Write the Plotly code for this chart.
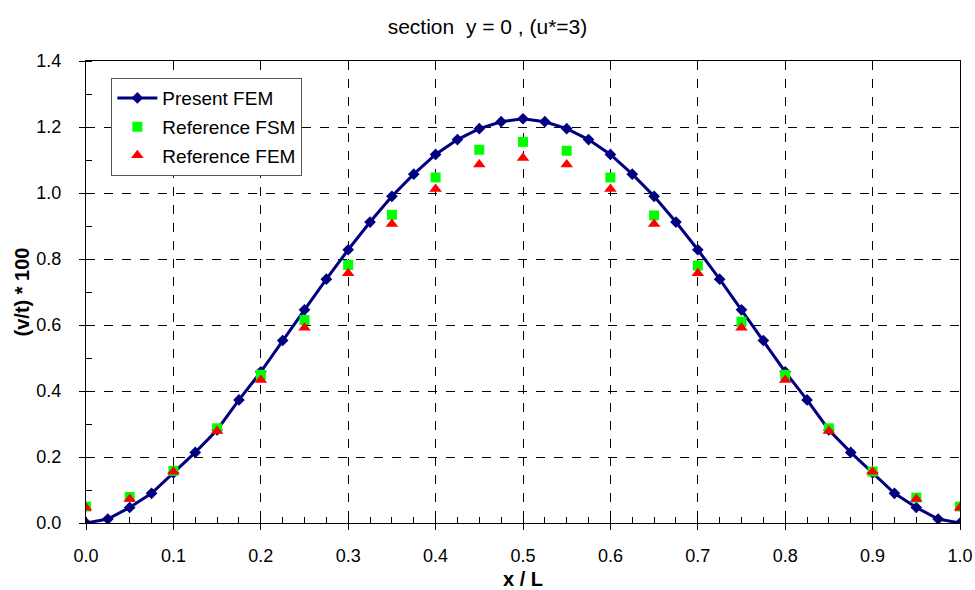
import plotly.graph_objects as go

# Present FEM (41 points, step 0.025)
x_present = [0.0, 0.025, 0.05, 0.075, 0.1, 0.125, 0.15, 0.175, 0.2, 0.225, 0.25,
             0.275, 0.3, 0.325, 0.35, 0.375, 0.4, 0.425, 0.45, 0.475, 0.5,
             0.525, 0.55, 0.575, 0.6, 0.625, 0.65, 0.675, 0.7, 0.725, 0.75,
             0.775, 0.8, 0.825, 0.85, 0.875, 0.9, 0.925, 0.95, 0.975, 1.0]
y_present = [0.0, 0.012, 0.047, 0.09, 0.152, 0.214, 0.282, 0.373, 0.458, 0.553, 0.646,
             0.739, 0.828, 0.912, 0.99, 1.057, 1.117, 1.162, 1.195, 1.216, 1.225,
             1.216, 1.195, 1.162, 1.117, 1.057, 0.99, 0.912, 0.828, 0.739, 0.646,
             0.553, 0.458, 0.373, 0.282, 0.214, 0.152, 0.09, 0.047, 0.012, 0.0]

# Reference points (step 0.05)
x_ref = [0.0, 0.05, 0.1, 0.15, 0.2, 0.25, 0.3, 0.35, 0.4, 0.45, 0.5,
         0.55, 0.6, 0.65, 0.7, 0.75, 0.8, 0.85, 0.9, 0.95, 1.0]
y_fsm = [0.05, 0.079, 0.158, 0.287, 0.449, 0.615, 0.782, 0.934, 1.047, 1.131, 1.155,
         1.128, 1.047, 0.932, 0.78, 0.61, 0.449, 0.287, 0.156, 0.077, 0.05]
y_fem = [0.046, 0.073, 0.155, 0.279, 0.433, 0.592, 0.757, 0.906, 1.012, 1.086, 1.106,
         1.086, 1.012, 0.906, 0.757, 0.592, 0.433, 0.279, 0.155, 0.073, 0.046]

x_ticks = [0.0, 0.1, 0.2, 0.3, 0.4, 0.5, 0.6, 0.7, 0.8, 0.9, 1.0]
y_ticks = [0.0, 0.2, 0.4, 0.6, 0.8, 1.0, 1.2, 1.4]

FONT = "Liberation Sans, Arial, sans-serif"

fig = go.Figure()
fig.add_trace(go.Scatter(
    x=x_present, y=y_present, mode="lines+markers", name="Present FEM",
    legendgroup="a",
    line=dict(color="#000080", width=3),
    marker=dict(symbol="diamond", size=9, color="#000080"),
))
fig.add_trace(go.Scatter(
    x=x_ref, y=y_fsm, mode="markers", name="Reference FSM",
    legendgroup="b",
    marker=dict(symbol="square", size=10, color="#00ff00"),
))
fig.add_trace(go.Scatter(
    x=x_ref, y=y_fem, mode="markers", name="Reference FEM",
    legendgroup="c",
    marker=dict(symbol="triangle-up", size=11, color="#ff0000"),
))

axis_common = dict(
    showline=True, linecolor="black", linewidth=1, mirror=True,
    showgrid=True, gridcolor="black", gridwidth=1, griddash="dash",
    zeroline=False, ticks="outside", ticklen=6, tickcolor="black",
    tickfont=dict(family=FONT, size=18, color="black"),
    tickformat=".1f", automargin=False,
)

fig.update_layout(
    width=975, height=590,
    paper_bgcolor="white", plot_bgcolor="white",
    margin=dict(l=86, r=15, t=61, b=67),
    title=dict(text="section  y = 0 , (u*=3)", x=0.5, xanchor="center",
               y=1 - 27 / 590, yanchor="middle",
               font=dict(family=FONT, size=21, color="black")),
    font=dict(family=FONT, color="black"),
    showlegend=True,
    legend=dict(
        x=0.029, y=0.963, xanchor="left", yanchor="top",
        bgcolor="white", bordercolor="#555555", borderwidth=1,
        font=dict(family=FONT, size=19, color="black"),
        itemwidth=40, tracegroupgap=1,
    ),
)
fig.update_xaxes(
    range=[0, 1], tickvals=x_ticks, ticklabelstandoff=10,
    title=dict(text="<b>x / L</b>", font=dict(family=FONT, size=20), standoff=8),
    minor=dict(dtick=0.025, ticks="inside", ticklen=6, tickcolor="black", showgrid=False),
    **axis_common,
)
fig.update_yaxes(
    range=[0, 1.4], tickvals=y_ticks, ticklabelstandoff=14,
    title=dict(text="<b>(v/t) * 100</b>", font=dict(family=FONT, size=20), standoff=1),
    minor=dict(dtick=0.1, ticks="inside", ticklen=6, tickcolor="black", showgrid=False),
    **axis_common,
)

fig.write_html("out.html", config={"displayModeBar": False},
               post_script="document.body.style.margin='0px';")
